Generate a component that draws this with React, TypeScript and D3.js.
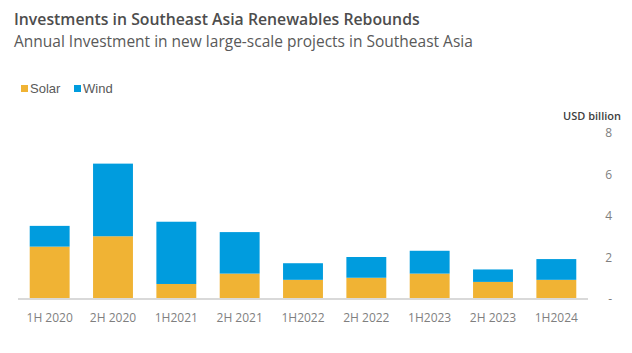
import React from "react";
import { scaleBand, scaleLinear, stack } from "d3";

const periods = ["1H 2020", "2H 2020", "1H2021", "2H 2021", "1H2022", "2H 2022", "1H2023", "2H 2023", "1H2024"];
const solar = [2.5, 3.0, 0.7, 1.2, 0.9, 1.0, 1.2, 0.8, 0.9];
const wind = [1.0, 3.5, 3.0, 2.0, 0.8, 1.0, 1.1, 0.6, 1.0];
const seriesNames = ["Solar", "Wind"];
const seriesColors = ["#F0B334", "#009CDE"];
const yTicks = [0, 2, 4, 6, 8];

const W = 632;
const H = 353;

const App = () => {
  const x = scaleBand<string>().domain(periods).range([18, 588]).paddingInner(0.37).paddingOuter(0.185);
  const y = scaleLinear().domain([0, 8]).range([298.5, 132.5]);

  const rows = periods.map((p, i) => ({ period: p, Solar: solar[i], Wind: wind[i] }));
  const layers = stack<any>().keys(seriesNames)(rows);

  return (
    <svg width={W} height={H} style={{ position: "absolute", left: 0, top: 0, background: "#fff" }}>
      <text x={14} y={25} fontFamily="'Open Sans', sans-serif" fontWeight={600} fontSize={15.8} fill="#4d4d4d">
        Investments in Southeast Asia Renewables Rebounds
      </text>
      <text x={14} y={47} fontFamily="'Open Sans', sans-serif" fontWeight={400} fontSize={15.5} fill="#595959">
        Annual Investment in new large-scale projects in Southeast Asia
      </text>

      {/* legend */}
      {seriesNames.map((s, i) => (
        <g key={s} transform={`translate(${i === 0 ? 21 : 74},0)`}>
          <rect x={0} y={85} width={7} height={7} fill={seriesColors[i]} />
          <text x={9} y={92.5} fontFamily="'Liberation Sans', Arial, sans-serif" fontSize={13} fill="#595959">
            {s}
          </text>
        </g>
      ))}

      <text x={621} y={120} textAnchor="end" fontFamily="'Open Sans', sans-serif" fontWeight={600} fontSize={11} fill="#404040">
        USD billion
      </text>

      {yTicks.map((t) => (
        <text key={t} x={612} y={y(t) + 4.5} textAnchor="end" fontFamily="'Open Sans', sans-serif" fontSize={12} fill="#7f7f7f">
          {t === 0 ? "-" : t}
        </text>
      ))}

      {layers.map((layer, li) => (
        <g key={layer.key} fill={seriesColors[li]}>
          {layer.map((d, i) => (
            <rect
              key={i}
              x={x(periods[i])}
              y={y(d[1])}
              width={x.bandwidth()}
              height={y(d[0]) - y(d[1])}
            />
          ))}
        </g>
      ))}

      <line x1={18} x2={588} y1={299} y2={299} stroke="#d9d9d9" strokeWidth={2} />

      {periods.map((p) => (
        <text
          key={p}
          x={(x(p) ?? 0) + x.bandwidth() / 2}
          y={322}
          textAnchor="middle"
          fontFamily="'Open Sans', sans-serif"
          fontSize={12}
          fill="#7f7f7f"
        >
          {p}
        </text>
      ))}
    </svg>
  );
};

export default App;
